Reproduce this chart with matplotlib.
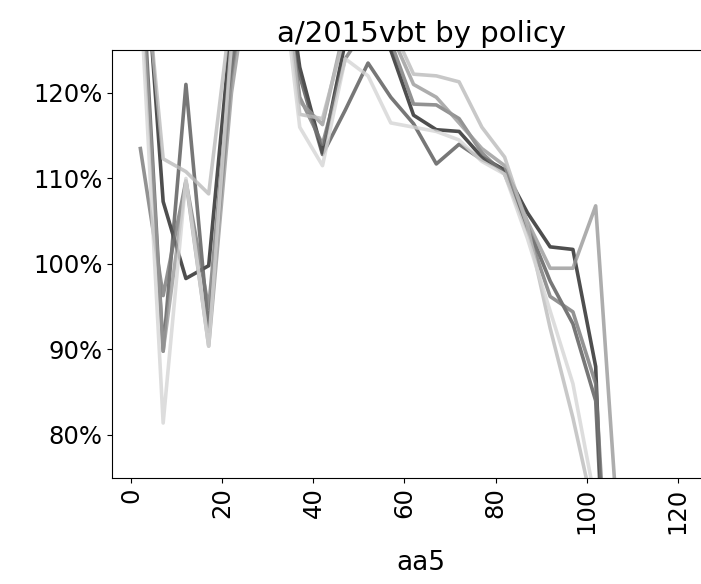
import matplotlib
matplotlib.use('Agg')
import matplotlib.pyplot as plt
from matplotlib.ticker import FuncFormatter

# x positions of the measurements
aa5 = [2, 7, 12, 17, 22, 27, 32, 37, 42, 47, 52, 57, 62, 67, 72, 77, 82, 87, 92, 97, 102, 107]

# one series per policy, in percent
policy_1 = [144, 107.3, 98.3, 99.8, 128, 145, 142, 123, 113, 126, 127, 125, 117.4, 115.7, 115.5, 112.5, 111, 106, 102, 101.7, 88, 20]
policy_2 = [138, 89.8, 121, 92.1, 122, 140, 138, 122, 112.8, 118, 123.5, 119.5, 116.4, 111.7, 114, 112.2, 111, 104.5, 98, 93, 84, 30]
policy_3 = [113.5, 96.3, 109.7, 94.8, 124, 142, 140, 119.5, 114, 124, 128, 126, 118.7, 118.6, 117, 113, 110.5, 104, 96.2, 94.4, 86, 40]
policy_4 = [135, 89.8, 109.7, 90.4, 120, 138, 140, 119, 116.3, 128, 129, 127, 121, 119.5, 116.5, 113.5, 111.5, 105, 99.5, 99.5, 106.8, 68]
policy_5 = [140, 112.3, 110.8, 108.2, 130, 145, 143, 117.5, 117, 127, 130, 128, 122.2, 122, 121.3, 116, 112.5, 104.5, 92.5, 82, 70, 50]
policy_6 = [131.7, 81.4, 110, 90.4, 126, 140, 139, 116, 111.5, 124, 122, 116.5, 116, 115.5, 114.5, 112, 110.5, 103, 94.5, 86, 72, 55]

series = [policy_1, policy_2, policy_3, policy_4, policy_5, policy_6]
colors = ['#222222', '#555555', '#777777', '#999999', '#bbbbbb', '#d5d5d5']

fig = plt.figure(figsize=(7.01, 5.84), dpi=100)
ax = fig.add_axes([0.160, 0.182, 0.882, 0.732])

for vals, c in zip(series, colors):
    ax.plot(aa5, vals, color=c, lw=2.6, alpha=0.8)

ax.set_xlim(-4.2, 131.6)
ax.set_ylim(75, 125)
ax.set_xticks([0, 20, 40, 60, 80, 100, 120])
ax.set_yticks([80, 90, 100, 110, 120])
ax.yaxis.set_major_formatter(FuncFormatter(lambda v, p: f'{v:.0f}%'))
ax.tick_params(axis='x', labelrotation=90, labelsize=17.5)
ax.tick_params(axis='y', labelsize=17.5)
ax.spines['right'].set_visible(False)
ax.set_xlabel('aa5', fontsize=19, labelpad=12)
ax.set_title('a/2015vbt by policy', fontsize=21)

fig.savefig('out.png', dpi=100)
